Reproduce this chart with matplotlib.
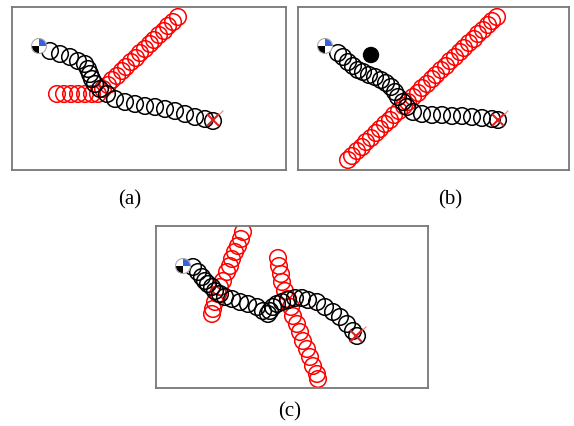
import matplotlib
matplotlib.use("Agg")
import matplotlib.pyplot as plt
from matplotlib.patches import Circle, Wedge

W, H = 574, 427

# panel frames (x0, y0, x1, y1) in picture pixels
panels = {
    "a": (12, 8, 286, 171),
    "b": (298, 8, 569, 171),
    "c": (156, 227, 428, 389),
}
labels = {"a": ("(a)", 130, 200), "b": ("(b)", 450, 200), "c": ("(c)", 290, 412)}

# robot path, panel (a)
path_a_x = [50, 60, 70, 78, 85, 88, 90, 92, 95, 100, 107, 115, 125, 135, 145, 155, 165, 175, 185, 195, 205, 213]
path_a_y = [52, 55, 58, 62, 65, 70, 75, 80, 85, 90, 95, 100, 103, 105, 107, 108, 110, 112, 115, 118, 120, 122]
# moving obstacle, panel (a)
obs_a_x = [57, 64, 71, 78, 85, 92, 98, 103, 108, 112, 117, 122, 126, 131, 136, 140, 145, 150, 154, 159, 164, 168, 173, 178]
obs_a_y = [95, 95, 95, 95, 95, 95, 95, 90, 86, 81, 77, 72, 68, 63, 59, 54, 50, 45, 41, 36, 32, 27, 23, 18]

# robot path, panel (b)
path_b_x = [338, 343, 348, 353, 358, 363, 369, 375, 381, 386, 391, 395, 398, 403, 407, 413, 422, 432, 442, 452, 462, 472, 482, 492, 498]
path_b_y = [54, 58, 63, 67, 71, 73, 76, 78, 81, 84, 88, 93, 98, 103, 108, 113, 115, 116, 116, 117, 117, 118, 119, 120, 121]
obs_b_x = [348, 352, 357, 362, 366, 371, 376, 380, 385, 390, 394, 399, 404, 408, 413, 418, 422,
           427, 432, 436, 441, 446, 450, 455, 460, 464, 469, 474, 478, 483, 488, 492, 497]
obs_b_y = [161, 157, 152, 148, 143, 139, 134, 130, 125, 121, 116, 112, 107, 103, 98, 94, 89,
           85, 80, 76, 71, 67, 62, 58, 53, 49, 44, 40, 35, 31, 26, 22, 18]
static_b = (371, 56)

# robot path, panel (c)
path_c_x = [193, 198, 202, 205, 208, 212, 215, 220, 225, 232, 240, 248, 257, 263, 268, 270, 273, 277,
            282, 288, 295, 302, 308, 317, 325, 333, 340, 347, 353, 357]
path_c_y = [268, 273, 278, 282, 285, 288, 292, 295, 298, 300, 303, 305, 308, 312, 315, 312, 308, 305,
            303, 301, 299, 299, 301, 303, 308, 313, 318, 325, 332, 337]
obs_c1_x = [243, 241, 238, 235, 232, 230, 227, 223, 220, 218, 215, 213, 212]
obs_c1_y = [233, 240, 247, 253, 260, 267, 273, 282, 288, 295, 303, 310, 315]
obs_c2_x = [278, 279, 281, 282, 285, 288, 291, 293, 297, 300, 303, 307, 310, 313, 317, 318]
obs_c2_y = [259, 267, 275, 283, 292, 300, 308, 317, 325, 333, 342, 350, 358, 367, 375, 380]

starts = {"a": (39, 47), "b": (325, 47), "c": (183, 267)}
goals = {"a": (213, 121), "b": (498, 121), "c": (356, 337)}

R = 8.3

fig = plt.figure(figsize=(W / 100, H / 100), dpi=100)


def make_ax(key):
    x0, y0, x1, y1 = panels[key]
    ax = fig.add_axes([x0 / W, 1 - y1 / H, (x1 - x0) / W, (y1 - y0) / H])
    ax.set_xlim(x0, x1)
    ax.set_ylim(y1, y0)
    ax.set_xticks([])
    ax.set_yticks([])
    for s in ax.spines.values():
        s.set_color("#777777")
        s.set_linewidth(1.3)
    return ax


def rings(ax, xs, ys, color):
    for x, y in zip(xs, ys):
        ax.add_patch(Circle((x, y), R, fill=False, edgecolor=color, linewidth=1.1))


def start_marker(ax, x, y):
    # quartered robot icon (y axis is flipped, so angles run clockwise on screen)
    r = 7.5
    ax.add_patch(Wedge((x, y), r, 270, 360, facecolor="#3a62d8", edgecolor="none", zorder=5))
    ax.add_patch(Wedge((x, y), r, 180, 270, facecolor="white", edgecolor="none", zorder=5))
    ax.add_patch(Wedge((x, y), r, 90, 180, facecolor="black", edgecolor="none", zorder=5))
    ax.add_patch(Wedge((x, y), r, 0, 90, facecolor="white", edgecolor="none", zorder=5))
    ax.add_patch(Circle((x, y), r, fill=False, edgecolor="#aaaaaa", linewidth=0.8, zorder=6))


def goal_marker(ax, x, y):
    ax.plot([x - 5, x + 10], [y + 5, y - 9], color="#f08080", linewidth=0.8, zorder=4)
    ax.plot(x, y, marker="x", color="#e02020", markersize=9, markeredgewidth=1.5, zorder=5)


ax_a = make_ax("a")
rings(ax_a, obs_a_x, obs_a_y, "red")
rings(ax_a, path_a_x, path_a_y, "black")

ax_b = make_ax("b")
rings(ax_b, obs_b_x, obs_b_y, "red")
rings(ax_b, path_b_x, path_b_y, "black")
ax_b.add_patch(Circle(static_b, 7.5, color="black"))

ax_c = make_ax("c")
rings(ax_c, obs_c1_x, obs_c1_y, "red")
rings(ax_c, obs_c2_x, obs_c2_y, "red")
rings(ax_c, path_c_x, path_c_y, "black")

for key, ax in (("a", ax_a), ("b", ax_b), ("c", ax_c)):
    start_marker(ax, *starts[key])
    goal_marker(ax, *goals[key])
    txt, lx, ly = labels[key]
    fig.text(lx / W, 1 - ly / H, txt, ha="center", va="center",
             fontsize=15, family="Liberation Serif")

fig.savefig("out.png", dpi=100)
